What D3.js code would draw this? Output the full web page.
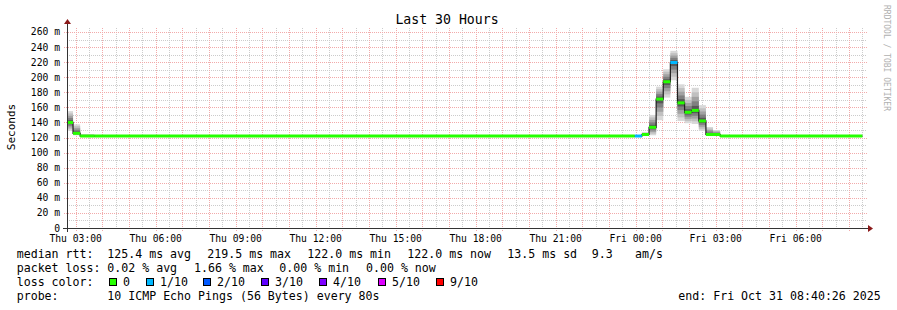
<!DOCTYPE html>
<html lang="en">
<head>
    <meta charset="UTF-8">
    <title>Last 30 Hours</title>
    <style>
        body { margin: 0; background: #fff; }
        svg text { font-family: "DejaVu Sans Mono", monospace; }
    </style>
    <script src="https://cdn.jsdelivr.net/npm/d3@7"></script>
</head>
<body>
    <script type="module">
        // Data (16 minute steps, only where the median changes)
        const segStart = [
            "2025-10-30T02:40:26", "2025-10-30T02:54:00", "2025-10-30T03:10:00", "2025-10-30T03:42:00",
            "2025-10-30T23:58:00", "2025-10-31T00:14:00", "2025-10-31T00:30:00", "2025-10-31T00:46:00",
            "2025-10-31T01:02:00", "2025-10-31T01:18:00", "2025-10-31T01:34:00", "2025-10-31T01:50:00",
            "2025-10-31T02:06:00", "2025-10-31T02:22:00", "2025-10-31T02:38:00", "2025-10-31T02:54:00",
            "2025-10-31T03:10:00"
        ];
        const lastEnd = "2025-10-31T08:30:00";
        const median  = [140, 125.6, 122, 122, 122, 124, 133.6, 171, 194, 219.5, 166, 153.5, 156, 142, 124, 124, 122];
        const lossIdx = [0, 0, 0, 0, 1, 0, 0, 0, 0, 1, 0, 0, 0, 0, 0, 0, 0];
        const smokeLo = [129, 123, 121.5, 121.5, 121.5, 122, 123, 143, 173, 196, 142, 139, 138, 129, 122, 122, 121.5];
        const smokeHi = [155, 137.5, 124.5, 122.5, 122.5, 127, 150, 187.5, 210.5, 235, 190.6, 174, 186, 163, 134, 130, 122.5];

        const lossLabels = ["0", "1/10", "2/10", "3/10", "4/10", "5/10", "9/10"];
        const lossColors = ["#26ff00", "#00b8ff", "#0059ff", "#5e00ff", "#7e00ff", "#dd00ff", "#ff0000"];

        const yTicks = [0, 20, 40, 60, 80, 100, 120, 140, 160, 180, 200, 220, 240, 260];
        const xStart = "2025-10-30T02:40:26";
        const xEnd = "2025-10-31T08:40:26";

        const statsRtt = ["125.4 ms avg", "219.5 ms max", "122.0 ms min", "122.0 ms now", "13.5 ms sd", "9.3", "am/s"];
        const statsLoss = ["0.02 % avg", "1.66 % max", "0.00 % min", "0.00 % now"];

        const W = 897, H = 310;
        const left = 67, right = 867, top = 28, bottom = 228;
        const parse = s => new Date(s + "Z");

        const svg = d3.select("body").append("svg").attr("width", W).attr("height", H);
        svg.append("rect").attr("width", W).attr("height", H).attr("fill", "#fff");

        const x = d3.scaleUtc().domain([parse(xStart), parse(xEnd)]).range([left, right]);
        const y = d3.scaleLinear().domain([0, 265.3]).range([bottom, top]);

        // grid
        const grid = svg.append("g");
        grid.selectAll("line.ymin")
            .data(d3.range(10, 265, 20))
            .join("line")
            .attr("x1", left).attr("x2", right)
            .attr("y1", d => Math.round(y(d)) + 0.5).attr("y2", d => Math.round(y(d)) + 0.5)
            .attr("stroke", "#cccccc").attr("stroke-dasharray", "1,1");
        grid.selectAll("line.xmin")
            .data(d3.utcMinute.every(30).range(parse(xStart), parse(xEnd)).filter(d => d.getUTCMinutes() === 30))
            .join("line")
            .attr("x1", d => Math.round(x(d)) + 0.5).attr("x2", d => Math.round(x(d)) + 0.5)
            .attr("y1", top).attr("y2", bottom)
            .attr("stroke", "#cccccc").attr("stroke-dasharray", "1,1");
        grid.selectAll("line.ymaj")
            .data(yTicks.slice(1))
            .join("line")
            .attr("x1", left - 3).attr("x2", right)
            .attr("y1", d => Math.round(y(d)) + 0.5).attr("y2", d => Math.round(y(d)) + 0.5)
            .attr("stroke", "#f2aaaa").attr("stroke-dasharray", "1,1");
        const hours = d3.utcHour.every(1).range(parse(xStart), parse(xEnd));
        grid.selectAll("line.xmaj")
            .data(hours)
            .join("line")
            .attr("x1", d => Math.round(x(d)) + 0.5).attr("x2", d => Math.round(x(d)) + 0.5)
            .attr("y1", top).attr("y2", bottom + 3)
            .attr("stroke", "#f2aaaa").attr("stroke-dasharray", "1,1");

        // segments
        const segs = segStart.map((s, i) => ({
            t0: parse(s),
            t1: parse(i < segStart.length - 1 ? segStart[i + 1] : lastEnd),
            med: median[i], loss: lossIdx[i], lo: smokeLo[i], hi: smokeHi[i]
        }));

        // smoke, five nested bands, outer light to inner dark
        const greys = ["#d8d8d8", "#c0c0c0", "#a2a2a2", "#808080", "#585858"];
        const smoke = svg.append("g");
        greys.forEach((c, k) => {
            smoke.selectAll(null)
                .data(segs)
                .join("rect")
                .attr("x", d => Math.max(left, x(d.t0)))
                .attr("width", d => x(d.t1) - Math.max(left, x(d.t0)))
                .attr("y", d => y(d.hi - (d.hi - d.med) * k / 5))
                .attr("height", d => Math.max(0, y(d.lo + (d.med - d.lo) * k / 5) - y(d.hi - (d.hi - d.med) * k / 5)))
                .attr("fill", c);
        });

        // median step line
        const pts = [];
        segs.forEach(d => { pts.push([Math.max(left, x(d.t0)), y(d.med)]); pts.push([x(d.t1), y(d.med)]); });
        svg.append("path")
            .attr("d", d3.line()(pts))
            .attr("fill", "none").attr("stroke", "#202020").attr("stroke-width", 1.2);

        // loss coloured median
        svg.append("g").selectAll("line")
            .data(segs)
            .join("line")
            .attr("x1", d => Math.max(left, x(d.t0))).attr("x2", d => x(d.t1))
            .attr("y1", d => y(d.med)).attr("y2", d => y(d.med))
            .attr("stroke", d => lossColors[d.loss]).attr("stroke-width", 3);

        // axes
        const axisCol = "#333";
        svg.append("line").attr("x1", left - 4).attr("x2", right + 2).attr("y1", bottom + 0.5).attr("y2", bottom + 0.5).attr("stroke", axisCol);
        svg.append("line").attr("x1", left + 0.5).attr("x2", left + 0.5).attr("y1", bottom + 4).attr("y2", top - 4).attr("stroke", axisCol);
        svg.append("path").attr("d", `M${right + 1},${bottom - 3}L${right + 6},${bottom + 0.5}L${right + 1},${bottom + 4}Z`).attr("fill", "#8b1a1a");
        svg.append("path").attr("d", `M${left - 3},${top - 4}L${left + 0.5},${top - 9}L${left + 4},${top - 4}Z`).attr("fill", "#8b1a1a");

        svg.append("g").selectAll("text")
            .data(yTicks)
            .join("text")
            .attr("x", 60).attr("y", d => y(d) + 3.5)
            .attr("text-anchor", "end").attr("font-size", 9.7)
            .text(d => d === 0 ? "0" : d + " m");

        const fmt = d3.utcFormat("%a %H:%M");
        svg.append("g").selectAll("text")
            .data(hours.filter(d => d.getUTCHours() % 3 === 0))
            .join("text")
            .attr("x", d => x(d)).attr("y", 242)
            .attr("text-anchor", "middle").attr("font-size", 9.7)
            .text(d => fmt(d));

        // titles
        svg.append("text").attr("x", 447).attr("y", 24).attr("text-anchor", "middle").attr("font-size", 13.2).text("Last 30 Hours");
        svg.append("text").attr("transform", "translate(15,127) rotate(-90)").attr("text-anchor", "middle").attr("font-size", 11).text("Seconds");
        svg.append("text").attr("transform", "translate(884,5) rotate(90)").attr("font-size", 8).attr("fill", "#b0b0b0").text("RRDTOOL / TOBI OETIKER");

        // legend
        const lg = svg.append("g").attr("font-size", 11.6).style("white-space", "pre");
        const rttX = [107.3, 207.3, 307.3, 407.3, 507.3, 591.7, 635];
        lg.append("text").attr("x", 16.7).attr("y", 258).text("median rtt:");
        statsRtt.forEach((s, i) => lg.append("text").attr("x", rttX[i]).attr("y", 258).text(s));
        const lossX = [107.3, 194, 279.3, 366];
        lg.append("text").attr("x", 16.7).attr("y", 272).text("packet loss:");
        statsLoss.forEach((s, i) => lg.append("text").attr("x", lossX[i]).attr("y", 272).text(s));
        lg.append("text").attr("x", 16.7).attr("y", 286).text("loss color:");
        const boxX = [109, 145.7, 203.3, 261, 319.3, 377.7, 436];
        lossLabels.forEach((s, i) => {
            lg.append("rect").attr("x", Math.round(boxX[i]) + 0.5).attr("y", 278.5).attr("width", 7).attr("height", 7)
                .attr("fill", lossColors[i]).attr("stroke", "#000");
            lg.append("text").attr("x", Math.round(boxX[i]) + 14).attr("y", 286).text(s);
        });
        lg.append("text").attr("x", 16.7).attr("y", 300).text("probe:");
        lg.append("text").attr("x", 107.3).attr("y", 300).text("10 ICMP Echo Pings (56 Bytes) every 80s");
        lg.append("text").attr("x", 678.3).attr("y", 300).text("end: Fri Oct 31 08:40:26 2025");
    </script>
</body>
</html>
